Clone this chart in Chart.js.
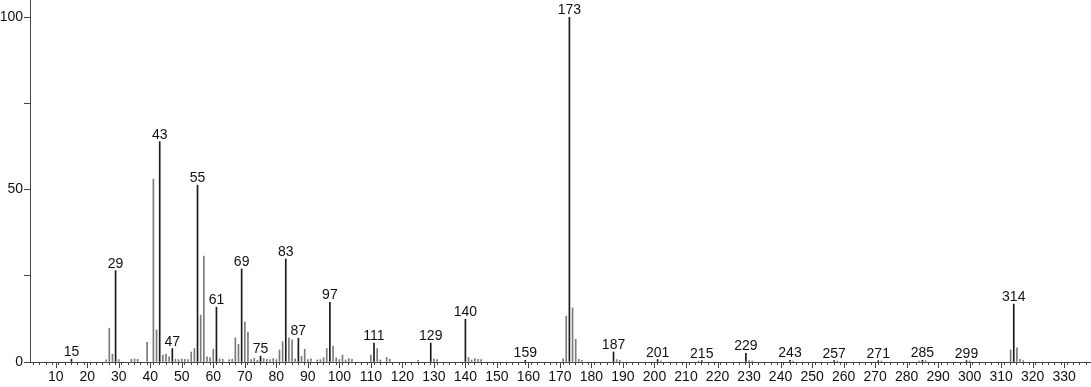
<!DOCTYPE html>
<html>
<head>
<meta charset="utf-8">
<script src="https://cdn.jsdelivr.net/npm/chart.js@4.4.0/dist/chart.umd.min.js"></script>
<style>
  html, body { margin: 0; padding: 0; background: #fff; }
  #wrap { width: 1091px; height: 387px; position: relative; }
</style>
</head>
<body>
<div id="wrap"><canvas id="spectrum"></canvas></div>
<script>
// labeled peaks (m/z, relative intensity)
const labeledMz = [15, 29, 43, 47, 55, 61, 69, 75, 83, 87, 97, 111, 129, 140, 159, 173, 187, 201, 215, 229, 243, 257, 271, 285, 299, 314];
const labeledInt = [0.8, 26.5, 63.9, 3.9, 51.3, 15.9, 27.0, 1.7, 29.9, 6.9, 17.3, 5.5, 5.5, 12.4, 0.5, 100, 2.9, 0.7, 0.4, 2.5, 0.5, 0.4, 0.4, 0.5, 0.4, 16.8];

// other peaks
const otherMz = [26, 27, 28, 30, 34, 35, 36, 39, 41, 42, 44, 45, 46, 48, 49, 50, 51, 52, 53, 54,
  56, 57, 58, 59, 60, 62, 63, 65, 66, 67, 68, 70, 71, 72, 73, 74, 76, 77, 78, 79, 80,
  81, 82, 84, 85, 86, 88, 89, 90, 91, 93, 94, 95, 96, 98, 99, 100, 101, 102, 103, 104,
  110, 112, 113, 115, 116, 125, 130, 131, 141, 142, 143, 144, 145,
  171, 172, 174, 175, 176, 177, 188, 189, 202, 214, 230, 231, 244, 258, 272, 284, 286, 300,
  313, 315, 316, 317];
const otherInt = [0.6, 9.8, 2.3, 0.7, 0.8, 0.9, 0.8, 5.7, 53.0, 9.3, 2.0, 2.3, 1.5, 0.8, 0.7, 0.9, 0.8, 0.7, 2.9, 3.9,
  13.6, 30.7, 1.5, 1.2, 3.7, 0.9, 0.8, 0.7, 0.8, 7.0, 5.1, 11.6, 8.7, 0.7, 1.1, 0.5, 1.0, 0.8, 0.7, 1.0, 0.7,
  3.5, 5.9, 7.0, 6.4, 0.9, 1.7, 3.7, 0.7, 0.9, 0.6, 0.7, 1.2, 3.9, 4.6, 1.2, 0.7, 2.0, 0.6, 1.0, 0.8,
  2.0, 3.9, 0.6, 1.3, 0.8, 0.5, 0.9, 0.7, 1.3, 0.6, 1.0, 0.8, 0.7,
  0.9, 13.3, 15.7, 6.6, 0.8, 0.5, 0.7, 0.5, 0.3, 0.3, 0.4, 0.3, 0.3, 0.3, 0.3, 0.3, 0.4, 0.3,
  3.5, 4.1, 0.8, 0.4];

const xMin = 2.85, xMax = 337.5;
const yMax = 105;
const fontFamily = '"Liberation Sans", Arial, sans-serif';

const toPoints = (xs, ys) => xs.map((x, i) => ({ x: x, y: ys[i] }));

// peak labels above labeled bars
const peakLabels = {
  id: 'peakLabels',
  afterDatasetsDraw(chart) {
    const ctx = chart.ctx;
    const meta = chart.getDatasetMeta(1);
    ctx.save();
    ctx.font = '14px ' + fontFamily;
    ctx.fillStyle = '#111';
    ctx.textAlign = 'center';
    ctx.textBaseline = 'alphabetic';
    meta.data.forEach((bar, i) => {
      ctx.fillText(String(labeledMz[i]), bar.x, bar.y - 3);
    });
    ctx.restore();
  }
};

// longer tick marks at every 10
const majorTicks = {
  id: 'majorTicks',
  afterDraw(chart) {
    const ctx = chart.ctx;
    const xs = chart.scales.x;
    const y0 = chart.chartArea.bottom;
    ctx.save();
    ctx.strokeStyle = '#444';
    ctx.lineWidth = 1;
    ctx.beginPath();
    for (let v = 10; v <= 330; v += 10) {
      const px = Math.round(xs.getPixelForValue(v)) + 0.5;
      ctx.moveTo(px, y0);
      ctx.lineTo(px, y0 + 6);
    }
    ctx.stroke();
    ctx.restore();
  }
};

new Chart(document.getElementById('spectrum'), {
  type: 'bar',
  data: {
    datasets: [
      {
        label: 'other',
        data: toPoints(otherMz, otherInt),
        backgroundColor: '#7a7a7a',
        barThickness: 1,
        grouped: false,
      },
      {
        label: 'labeled',
        data: toPoints(labeledMz, labeledInt),
        backgroundColor: '#1a1a1a',
        barThickness: 1,
        grouped: false,
      },
    ],
  },
  options: {
    responsive: true,
    maintainAspectRatio: false,
    animation: false,
    layout: { padding: 0 },
    plugins: {
      legend: { display: false },
      tooltip: { enabled: false },
    },
    scales: {
      x: {
        type: 'linear',
        min: xMin,
        max: xMax,
        afterFit: (s) => {
          s.height = 25;
          s.paddingLeft = 0;
          s.paddingRight = 0;
        },
        afterBuildTicks: (s) => {
          const t = [];
          for (let v = 4; v <= 336; v += 2) t.push({ value: v });
          s.ticks = t;
        },
        border: { display: true, color: '#444', width: 1 },
        grid: { drawOnChartArea: false, drawTicks: true, tickLength: 3, tickColor: '#444' },
        ticks: {
          autoSkip: false,
          maxRotation: 0,
          padding: 4,
          color: '#111',
          font: { family: fontFamily, size: 14 },
          callback: (v) => (v % 10 === 0 ? String(v) : ''),
        },
      },
      y: {
        min: 0,
        max: yMax,
        afterFit: (s) => {
          s.width = 30;
          s.paddingTop = 0;
          s.paddingBottom = 0;
        },
        afterBuildTicks: (s) => {
          s.ticks = [0, 25, 50, 75, 100].map((v) => ({ value: v }));
        },
        border: { display: true, color: '#444', width: 1 },
        grid: { drawOnChartArea: false, drawTicks: true, tickLength: 6, tickColor: '#444' },
        ticks: {
          padding: 1,
          color: '#111',
          font: { family: fontFamily, size: 14 },
          callback: (v) => (v % 50 === 0 ? String(v) : ''),
        },
      },
    },
  },
  plugins: [peakLabels, majorTicks],
});
</script>
</body>
</html>
